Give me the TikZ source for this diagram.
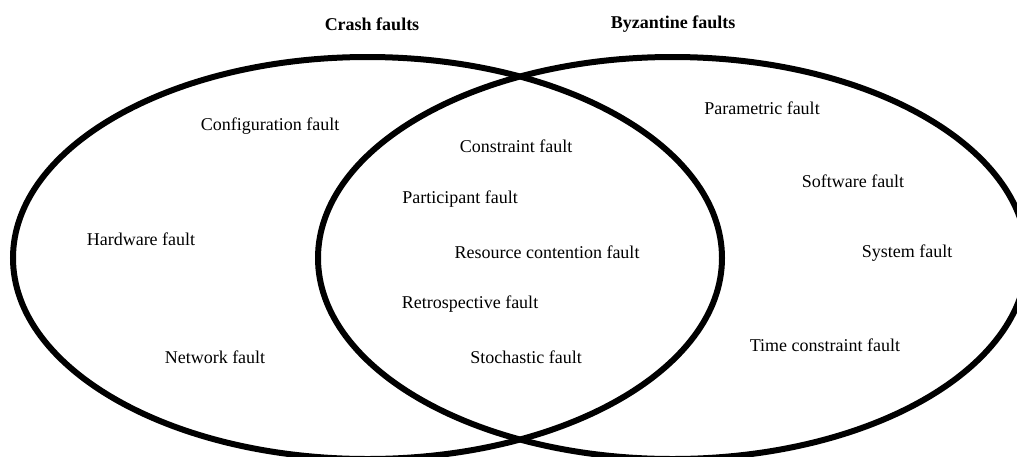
\documentclass[tikz,border=0pt]{standalone}
\usepackage{fontspec}
\setmainfont{Liberation Serif}
\begin{document}
\begin{tikzpicture}[x=1pt,y=-1pt,
  lbl/.style={font=\fontsize{18}{20}\selectfont},
  ttl/.style={font=\bfseries\fontsize{18}{20}\selectfont},
  faultset/.style={line width=6pt}]
  \useasboundingbox (0,0) rectangle (1017,456);
  \clip (0,0) rectangle (1017,456);
  % the two sets
  \draw[faultset] (367.5,258) ellipse [x radius=354.5pt, y radius=201pt];
  \draw[faultset] (672.5,258) ellipse [x radius=354.5pt, y radius=201pt];
  % titles
  \node[ttl] (crash) at (372,24) {Crash faults};
  \node[ttl] (byz) at (673,24) {Byzantine faults};
  % crash only
  \node[lbl] (config) at (270,126) {Configuration fault};
  \node[lbl] (hardware) at (141,239) {Hardware fault};
  \node[lbl] (network) at (215,357) {Network fault};
  % both
  \node[lbl] (constraint) at (516,146) {Constraint fault};
  \node[lbl] (participant) at (460,199) {Participant fault};
  \node[lbl] (resource) at (547,252) {Resource contention fault};
  \node[lbl] (retro) at (470,304) {Retrospective fault};
  \node[lbl] (stoch) at (526,357) {Stochastic fault};
  % byzantine only
  \node[lbl] (param) at (762,108) {Parametric fault};
  \node[lbl] (software) at (853,181) {Software fault};
  \node[lbl] (system) at (907,253) {System fault};
  \node[lbl] (timec) at (825,345) {Time constraint fault};
\end{tikzpicture}
\end{document}
